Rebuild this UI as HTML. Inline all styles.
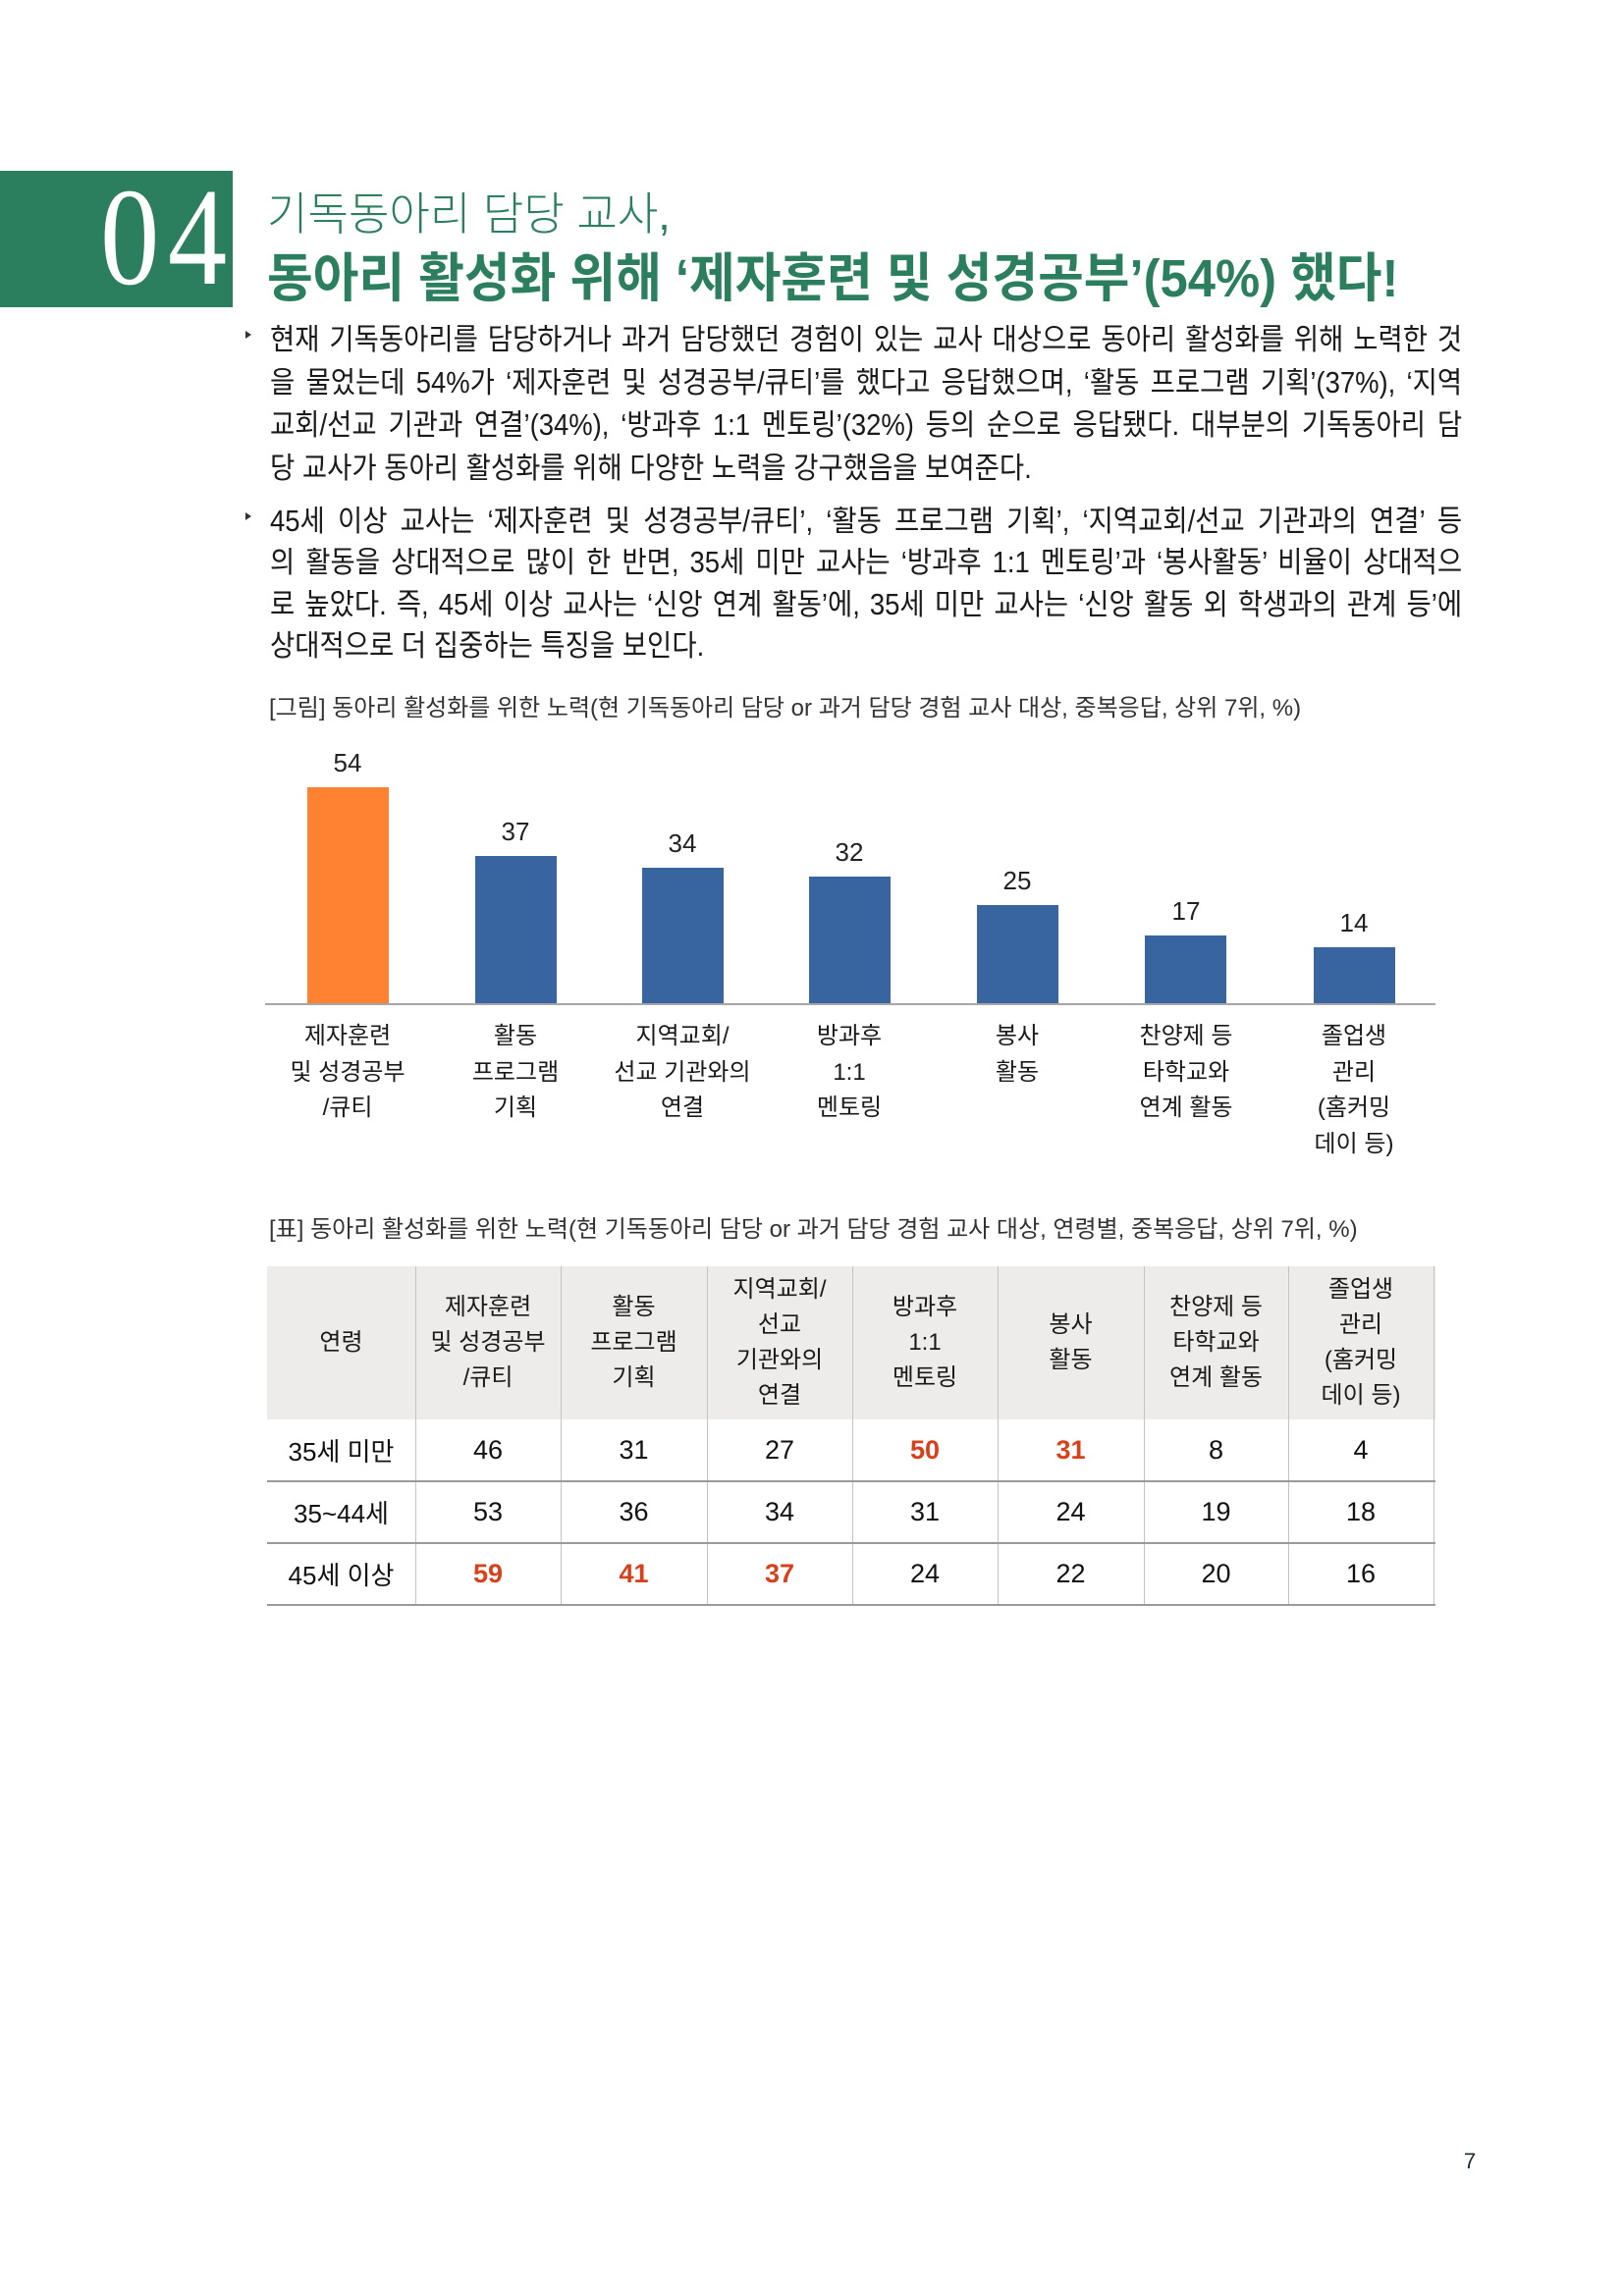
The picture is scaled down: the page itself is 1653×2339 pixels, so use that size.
<!DOCTYPE html>
<html lang="ko">
<head>
<meta charset="utf-8">
<style>
  html,body{margin:0;padding:0;background:#fff;}
  body{width:1653px;height:2339px;position:relative;overflow:hidden;
    font-family:"Liberation Sans","Noto Sans CJK KR",sans-serif;color:#1a1a1a;}
  .a{position:absolute;white-space:nowrap;}
  .green{color:#2c7f5e;}
  .bl{position:absolute;left:275px;width:1349px;font-size:30.5px;line-height:31px;height:31px;
      transform:scaleX(0.9);transform-origin:0 0;text-align:justify;text-align-last:justify;overflow:hidden;color:#1a1a1a;}
  .bl.last{text-align:left;text-align-last:left;white-space:nowrap;}
  .bullet{position:absolute;width:0;height:0;border-top:4px solid transparent;border-bottom:4px solid transparent;border-left:6px solid #333;}
  .bar{position:absolute;width:83px;}
  .val{position:absolute;width:80px;text-align:center;font-size:26px;line-height:30px;color:#222;}
  .cat{position:absolute;width:170px;text-align:center;font-size:24px;line-height:36.5px;color:#1a1a1a;}
  .cell{position:absolute;display:flex;align-items:center;justify-content:center;text-align:center;}
  .hd{font-size:24px;line-height:36px;color:#1a1a1a;}
  .dt{font-size:27px;color:#111;}
  .red{color:#d8401b;font-weight:bold;}
  .vl{position:absolute;width:1px;background:#c3c3c3;}
  .hl{position:absolute;height:2px;background:#9a9a9a;left:272px;width:1190px;}
</style>
</head>
<body>

<!-- Header block -->
<div class="a" style="left:0;top:174px;width:237px;height:139px;background:#2c7f5e;"></div>
<div class="a" style="left:102px;top:170px;font-family:'Liberation Serif',serif;font-size:142px;line-height:142px;color:#fff;letter-spacing:10px;transform:scaleX(0.85);transform-origin:0 0;">04</div>

<div class="a green" style="left:272px;top:195px;font-size:46px;line-height:46px;font-weight:300;transform:scaleX(0.98);transform-origin:0 0;">기독동아리 담당 교사,</div>
<div class="a green" style="left:272px;top:257px;font-size:54px;line-height:54px;font-weight:bold;transform:scaleX(0.94);transform-origin:0 0;">동아리 활성화 위해 ‘제자훈련 및 성경공부’(54%) 했다!</div>

<!-- Body paragraph 1 -->
<div class="bullet" style="left:250px;top:337px;"></div>
<div class="bl" style="top:331px;">현재 기독동아리를 담당하거나 과거 담당했던 경험이 있는 교사 대상으로 동아리 활성화를 위해 노력한 것</div>
<div class="bl" style="top:375px;">을 물었는데 54%가 ‘제자훈련 및 성경공부/큐티’를 했다고 응답했으며, ‘활동 프로그램 기획’(37%), ‘지역</div>
<div class="bl" style="top:418px;">교회/선교 기관과 연결’(34%), ‘방과후 1:1 멘토링’(32%) 등의 순으로 응답됐다. 대부분의 기독동아리 담</div>
<div class="bl last" style="top:462px;">당 교사가 동아리 활성화를 위해 다양한 노력을 강구했음을 보여준다.</div>

<!-- Body paragraph 2 -->
<div class="bullet" style="left:250px;top:522px;"></div>
<div class="bl" style="top:516px;">45세 이상 교사는 ‘제자훈련 및 성경공부/큐티’, ‘활동 프로그램 기획’, ‘지역교회/선교 기관과의 연결’ 등</div>
<div class="bl" style="top:558px;">의 활동을 상대적으로 많이 한 반면, 35세 미만 교사는 ‘방과후 1:1 멘토링’과 ‘봉사활동’ 비율이 상대적으</div>
<div class="bl" style="top:601px;">로 높았다. 즉, 45세 이상 교사는 ‘신앙 연계 활동’에, 35세 미만 교사는 ‘신앙 활동 외 학생과의 관계 등’에</div>
<div class="bl last" style="top:643px;">상대적으로 더 집중하는 특징을 보인다.</div>

<!-- Chart caption -->
<div class="a" style="left:274px;top:710px;font-size:24px;line-height:24px;color:#333;transform:scaleX(1.0);transform-origin:0 0;">[그림] 동아리 활성화를 위한 노력(현 기독동아리 담당 or 과거 담당 경험 교사 대상, 중복응답, 상위 7위, %)</div>

<!-- Bars -->
<div class="bar" style="left:313px;top:802px;height:221px;background:#ff8232;"></div>
<div class="bar" style="left:484px;top:872px;height:151px;background:#3864a0;"></div>
<div class="bar" style="left:654px;top:884px;height:139px;background:#3864a0;"></div>
<div class="bar" style="left:824px;top:893px;height:130px;background:#3864a0;"></div>
<div class="bar" style="left:995px;top:922px;height:101px;background:#3864a0;"></div>
<div class="bar" style="left:1166px;top:953px;height:70px;background:#3864a0;"></div>
<div class="bar" style="left:1338px;top:965px;height:58px;background:#3864a0;"></div>
<div class="a" style="left:270px;top:1022px;width:1192px;height:2px;background:#a6a6a6;"></div>

<!-- Values -->
<div class="val" style="left:314px;top:762px;">54</div>
<div class="val" style="left:485px;top:832px;">37</div>
<div class="val" style="left:655px;top:844px;">34</div>
<div class="val" style="left:825px;top:853px;">32</div>
<div class="val" style="left:996px;top:882px;">25</div>
<div class="val" style="left:1168px;top:913px;">17</div>
<div class="val" style="left:1339px;top:925px;">14</div>

<!-- Category labels -->
<div class="cat" style="left:269px;top:1038px;">제자훈련<br>및 성경공부<br>/큐티</div>
<div class="cat" style="left:440px;top:1038px;">활동<br>프로그램<br>기획</div>
<div class="cat" style="left:610px;top:1038px;">지역교회/<br>선교 기관와의<br>연결</div>
<div class="cat" style="left:780px;top:1038px;">방과후<br>1:1<br>멘토링</div>
<div class="cat" style="left:951px;top:1038px;">봉사<br>활동</div>
<div class="cat" style="left:1123px;top:1038px;">찬양제 등<br>타학교와<br>연계 활동</div>
<div class="cat" style="left:1294px;top:1038px;">졸업생<br>관리<br>(홈커밍<br>데이 등)</div>

<!-- Table caption -->
<div class="a" style="left:274px;top:1241px;font-size:24px;line-height:24px;color:#333;transform:scaleX(1.0);transform-origin:0 0;">[표] 동아리 활성화를 위한 노력(현 기독동아리 담당 or 과거 담당 경험 교사 대상, 연령별, 중복응답, 상위 7위, %)</div>

<!-- Table -->
<div class="a" style="left:272px;top:1290px;width:1190px;height:156px;background:#eeecea;"></div>

<div class="vl" style="left:423px;top:1290px;height:346px;"></div>
<div class="vl" style="left:571px;top:1290px;height:346px;"></div>
<div class="vl" style="left:720px;top:1290px;height:346px;"></div>
<div class="vl" style="left:868px;top:1290px;height:346px;"></div>
<div class="vl" style="left:1016px;top:1290px;height:346px;"></div>
<div class="vl" style="left:1165px;top:1290px;height:346px;"></div>
<div class="vl" style="left:1312px;top:1290px;height:346px;"></div>
<div class="vl" style="left:1460px;top:1290px;height:346px;"></div>

<div class="hl" style="top:1508px;"></div>
<div class="hl" style="top:1571px;"></div>
<div class="hl" style="top:1634px;"></div>

<!-- header cells -->
<div class="cell hd" style="left:272px;top:1290px;width:151px;height:156px;">연령</div>
<div class="cell hd" style="left:423px;top:1290px;width:148px;height:156px;">제자훈련<br>및 성경공부<br>/큐티</div>
<div class="cell hd" style="left:571px;top:1290px;width:149px;height:156px;">활동<br>프로그램<br>기획</div>
<div class="cell hd" style="left:720px;top:1290px;width:148px;height:156px;">지역교회/<br>선교<br>기관와의<br>연결</div>
<div class="cell hd" style="left:868px;top:1290px;width:148px;height:156px;">방과후<br>1:1<br>멘토링</div>
<div class="cell hd" style="left:1016px;top:1290px;width:149px;height:156px;">봉사<br>활동</div>
<div class="cell hd" style="left:1165px;top:1290px;width:147px;height:156px;">찬양제 등<br>타학교와<br>연계 활동</div>
<div class="cell hd" style="left:1312px;top:1290px;width:148px;height:156px;">졸업생<br>관리<br>(홈커밍<br>데이 등)</div>

<!-- row 1 -->
<div class="cell dt" style="left:272px;top:1446px;width:151px;height:63px;font-size:26px;">35세 미만</div>
<div class="cell dt" style="left:423px;top:1446px;width:148px;height:63px;">46</div>
<div class="cell dt" style="left:571px;top:1446px;width:149px;height:63px;">31</div>
<div class="cell dt" style="left:720px;top:1446px;width:148px;height:63px;">27</div>
<div class="cell dt red" style="left:868px;top:1446px;width:148px;height:63px;">50</div>
<div class="cell dt red" style="left:1016px;top:1446px;width:149px;height:63px;">31</div>
<div class="cell dt" style="left:1165px;top:1446px;width:147px;height:63px;">8</div>
<div class="cell dt" style="left:1312px;top:1446px;width:148px;height:63px;">4</div>

<!-- row 2 -->
<div class="cell dt" style="left:272px;top:1509px;width:151px;height:63px;font-size:26px;">35~44세</div>
<div class="cell dt" style="left:423px;top:1509px;width:148px;height:63px;">53</div>
<div class="cell dt" style="left:571px;top:1509px;width:149px;height:63px;">36</div>
<div class="cell dt" style="left:720px;top:1509px;width:148px;height:63px;">34</div>
<div class="cell dt" style="left:868px;top:1509px;width:148px;height:63px;">31</div>
<div class="cell dt" style="left:1016px;top:1509px;width:149px;height:63px;">24</div>
<div class="cell dt" style="left:1165px;top:1509px;width:147px;height:63px;">19</div>
<div class="cell dt" style="left:1312px;top:1509px;width:148px;height:63px;">18</div>

<!-- row 3 -->
<div class="cell dt" style="left:272px;top:1572px;width:151px;height:63px;font-size:26px;">45세 이상</div>
<div class="cell dt red" style="left:423px;top:1572px;width:148px;height:63px;">59</div>
<div class="cell dt red" style="left:571px;top:1572px;width:149px;height:63px;">41</div>
<div class="cell dt red" style="left:720px;top:1572px;width:148px;height:63px;">37</div>
<div class="cell dt" style="left:868px;top:1572px;width:148px;height:63px;">24</div>
<div class="cell dt" style="left:1016px;top:1572px;width:149px;height:63px;">22</div>
<div class="cell dt" style="left:1165px;top:1572px;width:147px;height:63px;">20</div>
<div class="cell dt" style="left:1312px;top:1572px;width:148px;height:63px;">16</div>

<!-- page number -->
<div class="a" style="left:1480px;top:2189px;width:34px;text-align:center;font-size:22px;line-height:26px;color:#1b2a3a;">7</div>

</body>
</html>
